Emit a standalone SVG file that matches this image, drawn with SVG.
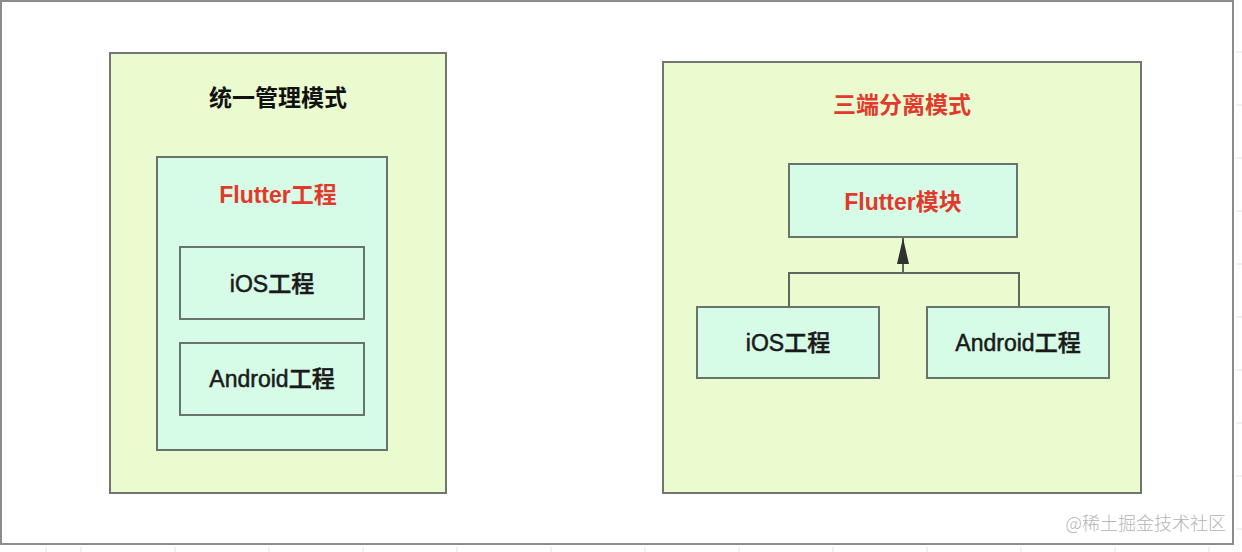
<svg xmlns="http://www.w3.org/2000/svg" width="1242" height="552" viewBox="0 0 1242 552">
  <defs>
    <style>
      .outer { fill: #eafbd0; stroke: #727572; stroke-width: 2; }
      .inner { fill: #d6fbe6; stroke: #6b736d; stroke-width: 2; }
      .conn { fill: none; stroke: #5f665f; stroke-width: 2; }
      .t { font-family: "Liberation Sans", "Noto Sans CJK SC", sans-serif; font-size: 23px; text-anchor: middle; }
      .title { font-weight: bold; fill: #111; }
      .red { font-weight: bold; fill: #e2392d; }
      .label { font-weight: 500; fill: #1a1a1a; stroke: #1a1a1a; stroke-width: 0.5; }
      .grid { stroke: #e2e2e2; stroke-width: 1; }
      .wm { font-family: "Noto Sans CJK SC", "Liberation Sans", sans-serif; font-size: 18px; fill: #b4b4b4; font-weight: 300; }
    </style>
    <marker id="arrow" viewBox="0 0 26 12" refX="26" refY="6" markerWidth="26" markerHeight="12" markerUnits="userSpaceOnUse" orient="auto">
      <path d="M26 6 L0 12 L0 0 Z" fill="#2f322f"/>
    </marker>
  </defs>
  <rect x="0" y="0" width="1242" height="552" fill="#ffffff"/>
  <g id="grid">
    <line class="grid" x1="1236" y1="52" x2="1242" y2="52"/>
    <line class="grid" x1="1236" y1="105" x2="1242" y2="105"/>
    <line class="grid" x1="1236" y1="158" x2="1242" y2="158"/>
    <line class="grid" x1="1236" y1="211" x2="1242" y2="211"/>
    <line class="grid" x1="1236" y1="264" x2="1242" y2="264"/>
    <line class="grid" x1="1236" y1="317" x2="1242" y2="317"/>
    <line class="grid" x1="1236" y1="370" x2="1242" y2="370"/>
    <line class="grid" x1="1236" y1="423" x2="1242" y2="423"/>
    <line class="grid" x1="1236" y1="476" x2="1242" y2="476"/>
    <line class="grid" x1="1236" y1="529" x2="1242" y2="529"/>
    <line class="grid" x1="46" y1="547" x2="46" y2="552"/>
    <line class="grid" x1="81" y1="547" x2="81" y2="552"/>
    <line class="grid" x1="175" y1="547" x2="175" y2="552"/>
    <line class="grid" x1="269" y1="547" x2="269" y2="552"/>
    <line class="grid" x1="363" y1="547" x2="363" y2="552"/>
    <line class="grid" x1="457" y1="547" x2="457" y2="552"/>
    <line class="grid" x1="551" y1="547" x2="551" y2="552"/>
    <line class="grid" x1="645" y1="547" x2="645" y2="552"/>
    <line class="grid" x1="739" y1="547" x2="739" y2="552"/>
    <line class="grid" x1="833" y1="547" x2="833" y2="552"/>
    <line class="grid" x1="927" y1="547" x2="927" y2="552"/>
    <line class="grid" x1="1021" y1="547" x2="1021" y2="552"/>
    <line class="grid" x1="1115" y1="547" x2="1115" y2="552"/>
    <line class="grid" x1="1209" y1="547" x2="1209" y2="552"/>
  </g>
  <rect id="frame" x="1" y="1" width="1232" height="543" fill="#ffffff" stroke="#8c8c8c" stroke-width="2"/>

  <g id="unified">
    <rect class="outer" x="110" y="53" width="336" height="440"/>
    <text class="t title" x="278" y="106">统一管理模式</text>
  </g>
  <g id="flutter-project">
    <rect class="inner" x="157" y="157" width="230" height="293"/>
    <text class="t red" x="278" y="203">Flutter工程</text>
  </g>
  <g id="ios-left">
    <rect class="inner" x="180" y="247" width="184" height="72"/>
    <text class="t label" x="272" y="292">iOS工程</text>
  </g>
  <g id="android-left">
    <rect class="inner" x="180" y="343" width="184" height="72"/>
    <text class="t label" x="272" y="387">Android工程</text>
  </g>

  <g id="separated">
    <rect class="outer" x="663" y="62" width="478" height="431"/>
    <text class="t red" x="902" y="113">三端分离模式</text>
  </g>
  <g id="flutter-module">
    <rect class="inner" x="789" y="164" width="228" height="73"/>
    <text class="t red" x="903" y="210">Flutter模块</text>
  </g>
  <g id="ios-right">
    <rect class="inner" x="697" y="307" width="182" height="71"/>
    <text class="t label" x="788" y="351">iOS工程</text>
  </g>
  <g id="android-right">
    <rect class="inner" x="927" y="307" width="182" height="71"/>
    <text class="t label" x="1018" y="351">Android工程</text>
  </g>

  <g id="connectors">
    <polyline class="conn" points="789,307 789,273 1019,273 1019,307"/>
    <line class="conn" x1="903" y1="273" x2="903" y2="238" marker-end="url(#arrow)"/>
  </g>

  <text class="wm" x="1226" y="530" text-anchor="end">@稀土掘金技术社区</text>
</svg>
